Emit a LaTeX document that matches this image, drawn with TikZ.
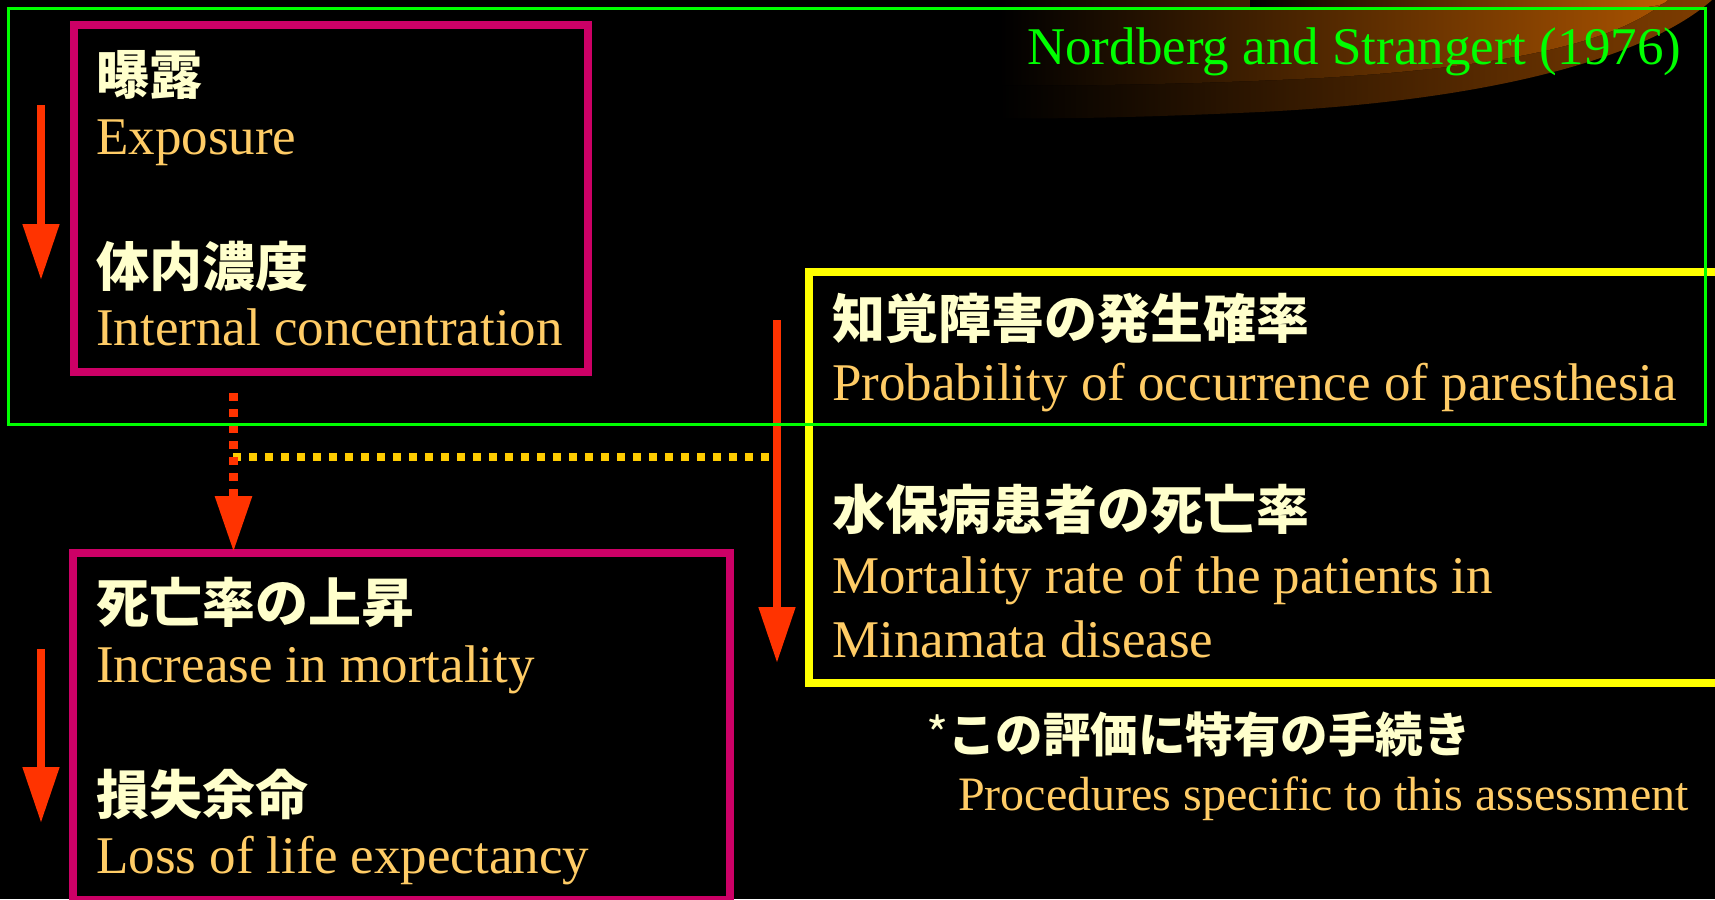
\documentclass[tikz,border=0pt]{standalone}
\usepackage{fontspec}
\setmainfont{Liberation Serif}
\newfontfamily\cjk{Noto Sans CJK JP}
\usetikzlibrary{arrows.meta}
\definecolor{entext}{HTML}{FFCC66}
\definecolor{jptext}{HTML}{FFFFCC}
\definecolor{magbox}{HTML}{CC0066}
\definecolor{arrowred}{HTML}{FF3300}
\definecolor{dotyellow}{HTML}{FFCC00}
\definecolor{boxyellow}{HTML}{FFFF00}
\definecolor{refgreen}{HTML}{00FF00}
\definecolor{swA}{HTML}{7F3D00}
\definecolor{swAm}{HTML}{5A2A00}
\definecolor{swB}{HTML}{A85200}
\definecolor{swBm}{HTML}{783900}
\definecolor{swC}{HTML}{C06000}
\tikzset{
  en/.style={anchor=base west, inner sep=0pt, text=entext, font=\fontsize{53}{63}\selectfont},
  jp/.style={anchor=base west, inner sep=0pt, text=jptext, font=\cjk\bfseries\fontsize{53}{63}\selectfont},
  magframe/.style={draw=magbox, line width=8pt, inner sep=0pt, rectangle},
  yelframe/.style={draw=boxyellow, line width=8pt, inner sep=0pt, rectangle},
  greenframe/.style={draw=refgreen, line width=3pt, inner sep=0pt, rectangle},
  redarrow/.style={draw=arrowred, line width=8pt, -{Triangle[width=35pt,length=56pt]}},
  reddotarrow/.style={draw=arrowred, line width=9pt, dash pattern=on 7.5pt off 8.5pt, -{Triangle[width=35pt,length=56pt]}},
  yeldots/.style={draw=dotyellow, line width=7.5pt, dash pattern=on 7.5pt off 8.5pt}
}
\begin{document}
\begin{tikzpicture}[x=1pt,y=-1pt]
\useasboundingbox (0,0) rectangle (1715,899);
\clip (0,0) rectangle (1715,899);
\fill[black] (0,0) rectangle (1715,899);
% decorative swoosh
\fill[left color=black, middle color=swAm, right color=swA]
  (1000,0) -- (1712,0) .. controls (1650,55) and (1500,100) .. (1260,112)
  .. controls (1130,118) and (1050,119) .. (1000,118) -- cycle;
\fill[left color=black, middle color=swBm, right color=swB]
  (1000,0) -- (1667,0) .. controls (1620,40) and (1520,66) .. (1320,78)
  .. controls (1180,85) and (1060,86) .. (1000,85) -- cycle;
\fill[left color=black, right color=swC]
  (1250,0) -- (1668,0) .. controls (1662,5) .. (1640,8) -- (1250,9) -- cycle;
% frames
\node[magframe, minimum width=514.5pt, minimum height=347pt] (box1) at (330.75,198.5) {};
\node[magframe, minimum width=657pt, minimum height=347pt] (box2) at (401.5,726.5) {};
\node[yelframe, minimum width=931pt, minimum height=411pt] (box3) at (1274.5,477.5) {};
% connectors
\coordinate (a1s) at (41,105);
\coordinate (a1e) at (41,280);
\coordinate (a2s) at (41,649);
\coordinate (a2e) at (41,823);
\coordinate (a3s) at (777,320);
\coordinate (a3e) at (777,663);
\coordinate (d1s) at (233.5,393);
\coordinate (d1e) at (233.5,552);
\coordinate (d2s) at (233,457);
\coordinate (d2e) at (770,457);
\draw[yeldots] (d2s) -- (d2e);
\draw[reddotarrow] (d1s) -- (d1e);
\draw[redarrow] (a1s) -- (a1e);
\draw[redarrow] (a2s) -- (a2e);
\draw[redarrow] (a3s) -- (a3e);
\node[greenframe, minimum width=1697pt, minimum height=416pt] (gbox) at (857,216.5) {};
% texts
\node[anchor=base west, inner sep=0pt, text=refgreen, font=\fontsize{53}{63}\selectfont] (ref) at (1027,65) {Nordberg and Strangert (1976)};
\node[jp] (t1j) at (96,94) {曝露};
\node[en] (t1e) at (96,154) {Exposure};
\node[jp] (t2j) at (96,286) {体内濃度};
\node[en] (t2e) at (96,345) {Internal concentration};
\node[jp] (t3j) at (96,622) {死亡率の上昇};
\node[en] (t3e) at (96,682) {Increase in mortality};
\node[jp] (t4j) at (96,814) {損失余命};
\node[en] (t4e) at (96,873) {Loss of life expectancy};
\node[jp] (t5j) at (832,338) {知覚障害の発生確率};
\node[en] (t5e) at (832,400) {Probability of occurrence of paresthesia};
\node[jp] (t6j) at (832,529) {水保病患者の死亡率};
\node[en] (t6e) at (832,593) {Mortality rate of the patients in};
\node[en] (t6f) at (832,657) {Minamata disease};
\node[jp, font=\cjk\bfseries\fontsize{47.5}{57}\selectfont] (fnj) at (926,752) {{\mdseries *}この評価に特有の手続き};
\node[en, font=\fontsize{48}{58}\selectfont] (fne) at (958,810) {Procedures specific to this assessment};
\end{tikzpicture}
\end{document}
